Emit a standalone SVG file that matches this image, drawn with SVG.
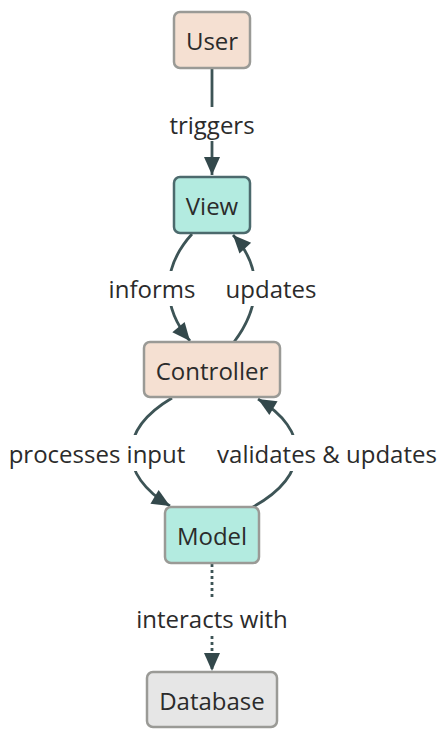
<svg xmlns="http://www.w3.org/2000/svg" width="442" height="731" viewBox="0 0 442 731">
<defs>
<marker id="arr" markerUnits="userSpaceOnUse" markerWidth="20" markerHeight="20" viewBox="0 0 20 20" refX="19" refY="10" orient="auto">
<path d="M1,2 L19,10 L1,18 Z" fill="#33484b"/>
</marker>
</defs>
<style>
.node rect{stroke-width:2.5}
.peach{fill:#f5e0d2;stroke:#9a9a96}
.teal{fill:#b3ebe0;stroke:#9a9a96}
.tealdark{fill:#b3ebe0;stroke:#4c6a6d}
.gray{fill:#e6e6e6;stroke:#9a9a96}
text{font-family:"Open Sans","Noto Sans","DejaVu Sans",sans-serif;font-size:24px;fill:#2b2b2b;text-anchor:middle;dominant-baseline:central}
.edge{fill:none;stroke:#3d5456;stroke-width:2.8}
.dot{stroke-dasharray:3 3}
.lbg{fill:#ffffff}
</style>
<g id="connectors">
<path class="edge" d="M212,69 L212,175" marker-end="url(#arr)"/>
<path class="edge" d="M192,234 C163,266 160,305 190,341" marker-end="url(#arr)"/>
<path class="edge" d="M234,342 C262,305 262,266 233,235" marker-end="url(#arr)"/>
<path class="edge" d="M172,398 C118,430 118,475 170,506" marker-end="url(#arr)"/>
<path class="edge" d="M253,507 C310,475 310,430 258,399" marker-end="url(#arr)"/>
<path class="edge dot" d="M212,564 L212,671" marker-end="url(#arr)"/>
<rect class="lbg" x="164" y="107" width="96" height="34"/>
<rect class="lbg" x="102" y="271" width="100" height="35"/>
<rect class="lbg" x="222" y="271" width="100" height="35"/>
<rect class="lbg" x="2" y="435" width="190" height="36"/>
<rect class="lbg" x="212" y="435" width="230" height="36"/>
<rect class="lbg" x="128" y="600" width="168" height="36"/>
<text x="212" y="124">triggers</text>
<text x="152" y="288">informs</text>
<text x="271" y="288">updates</text>
<text x="97" y="453">processes input</text>
<text x="327" y="453">validates &amp; updates</text>
<text x="212" y="618">interacts with</text>
</g>
<g id="node-user" class="node">
<rect class="peach" x="174" y="12" width="76" height="56" rx="6"/>
<text x="212" y="40">User</text>
</g>
<g id="node-view" class="node">
<rect class="tealdark" x="174" y="177" width="76" height="56" rx="6"/>
<text x="212" y="205">View</text>
</g>
<g id="node-controller" class="node">
<rect class="peach" x="144" y="342" width="136" height="55" rx="6"/>
<text x="212" y="370">Controller</text>
</g>
<g id="node-model" class="node">
<rect class="teal" x="165" y="507" width="94" height="56" rx="6"/>
<text x="212" y="535">Model</text>
</g>
<g id="node-database" class="node">
<rect class="gray" x="147" y="672" width="130" height="55" rx="6"/>
<text x="212" y="700">Database</text>
</g>
</svg>
